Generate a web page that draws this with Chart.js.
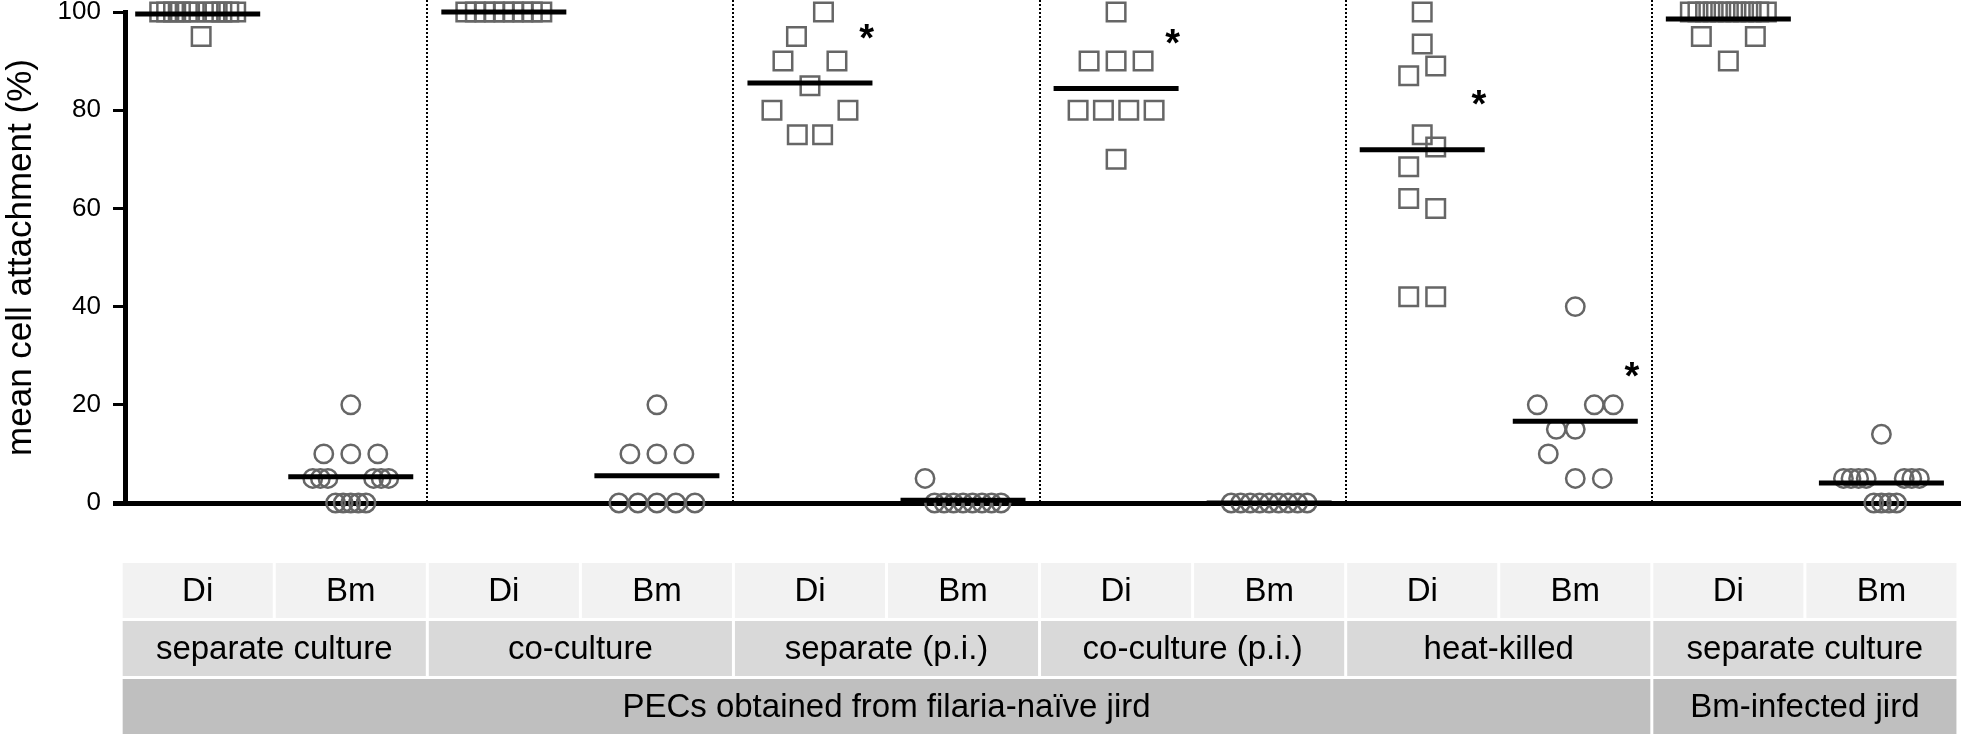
<!DOCTYPE html>
<html>
<head>
<meta charset="utf-8">
<script src="https://cdn.jsdelivr.net/npm/chart.js@4.4.1/dist/chart.umd.min.js"></script>
<style>
  html, body { margin: 0; padding: 0; background: #fff; }
</style>
</head>
<body>
<canvas id="grafico" width="1961" height="737"></canvas>
<script>
// Columns, conditions and PEC sources
const columnLabels = ['Di', 'Bm', 'Di', 'Bm', 'Di', 'Bm', 'Di', 'Bm', 'Di', 'Bm', 'Di', 'Bm'];
const treatments = ['separate culture', 'co-culture', 'separate (p.i.)', 'co-culture (p.i.)', 'heat-killed', 'separate culture'];
const sources = ['PECs obtained from filaria-naïve jird', 'Bm-infected jird'];
const sourceSpans = [5, 1]; // treatments per source

// mean cell attachment (%) per worm
const diSeparate = [100, 100, 100, 100, 100, 100, 95, 100, 100, 100, 100, 100];
const bmSeparate = [5, 5, 5, 0, 0, 0, 0, 0, 5, 5, 5, 10, 10, 10, 20];
const diCoculture = [100, 100, 100, 100, 100, 100, 100, 100, 100];
const bmCoculture = [0, 0, 0, 0, 0, 10, 10, 10, 20];
const diSeparatePI = [80, 75, 75, 80, 90, 85, 90, 95, 100];
const bmSeparatePI = [5, 0, 0, 0, 0, 0, 0, 0, 0];
const diCoculturePI = [70, 80, 80, 80, 80, 90, 90, 90, 100];
const bmCoculturePI = [0, 0, 0, 0, 0, 0, 0, 0, 0];
const diHeatKilled = [42, 42, 62, 60, 68.5, 72.5, 75, 87, 89, 93.5, 100];
const bmHeatKilled = [10, 5, 5, 20, 15, 15, 20, 20, 40];
const diInfected = [95, 90, 95, 100, 100, 100, 100, 100, 100, 100, 100, 100, 100, 100];
const bmInfected = [5, 5, 5, 5, 0, 0, 0, 0, 5, 5, 5, 14];

const seriesValues = [diSeparate, bmSeparate, diCoculture, bmCoculture, diSeparatePI, bmSeparatePI,
  diCoculturePI, bmCoculturePI, diHeatKilled, bmHeatKilled, diInfected, bmInfected];
const significant = [false, false, false, false, true, false, true, false, true, true, false, false];

const FONT = "'Liberation Sans', Arial, Helvetica, sans-serif";
const COL_PX = 153.08;   // width of one column in pixels
const ROW_UNITS = 5.2;   // values closer than this share a row of the scatter

const mean = a => a.reduce((s, v) => s + v, 0) / a.length;

// spread points of one column sideways, prism-like rows
function spread(values) {
  const sorted = values.map((v, i) => ({ v, i })).sort((a, b) => a.v - b.v || a.i - b.i);
  const out = new Array(values.length);
  let k = 0;
  while (k < sorted.length) {
    const start = sorted[k].v;
    const row = [];
    while (k < sorted.length && sorted[k].v - start <= ROW_UNITS) row.push(sorted[k++]);
    row.sort((a, b) => a.i - b.i);
    const gap = row.length > 1 ? Math.min(27, 76 / (row.length - 1)) : 0;
    row.forEach((p, j) => { out[p.i] = (j - (row.length - 1) / 2) * gap; });
  }
  return out;
}

function columnPoints(c) {
  const vals = seriesValues[c];
  const off = spread(vals);
  return vals.map((v, i) => ({ x: c + off[i] / COL_PX, y: v }));
}

const squares = [], circles = [];
seriesValues.forEach((vals, c) => {
  (columnLabels[c] === 'Di' ? squares : circles).push(...columnPoints(c));
});
const means = seriesValues.map((vals, c) => ({ x: c, y: mean(vals) }));

// dotted lines between conditions
const separators = {
  id: 'separators',
  beforeDatasetsDraw(chart) {
    const { ctx, scales: { x, y } } = chart;
    ctx.save();
    ctx.strokeStyle = '#000';
    ctx.lineWidth = 2;
    ctx.setLineDash([2, 2]);
    for (let g = 1; g < treatments.length; g++) {
      const px = Math.round(x.getPixelForValue(g * 2 - 0.5));
      ctx.beginPath();
      ctx.moveTo(px, 0);
      ctx.lineTo(px, y.getPixelForValue(0));
      ctx.stroke();
    }
    ctx.restore();
  }
};

// asterisks
const stars = {
  id: 'stars',
  afterDatasetsDraw(chart) {
    const { ctx, scales: { x, y } } = chart;
    ctx.save();
    ctx.font = 'bold 38px ' + FONT;
    ctx.fillStyle = '#000';
    ctx.textAlign = 'center';
    ctx.textBaseline = 'alphabetic';
    seriesValues.forEach((vals, c) => {
      if (!significant[c]) return;
      const px = x.getPixelForValue(c + 0.37);
      const py = y.getPixelForValue(mean(vals) + 11);
      ctx.fillText('*', px, py + 0.57 * 38);
    });
    ctx.restore();
  }
};

// grey table under the axis
const categoryTable = {
  id: 'categoryTable',
  afterDraw(chart) {
    const { ctx, scales: { x } } = chart;
    const edge = i => x.getPixelForValue(i - 0.5);
    let acc = 0;
    const sourceCells = sources.map((t, s) => {
      const from = acc * 2;
      acc += sourceSpans[s];
      return { t, from, to: acc * 2 };
    });
    const rows = [
      { top: 563, fill: '#f2f2f2', cells: columnLabels.map((t, i) => ({ t, from: i, to: i + 1 })) },
      { top: 621, fill: '#d9d9d9', cells: treatments.map((t, g) => ({ t, from: g * 2, to: g * 2 + 2 })) },
      { top: 679, fill: '#bfbfbf', cells: sourceCells }
    ];
    const h = 55;
    ctx.save();
    ctx.font = '33px ' + FONT;
    ctx.textAlign = 'center';
    ctx.textBaseline = 'middle';
    rows.forEach(r => {
      r.cells.forEach(cell => {
        const x0 = edge(cell.from) + 1.5, x1 = edge(cell.to) - 1.5;
        ctx.fillStyle = r.fill;
        ctx.fillRect(x0, r.top, x1 - x0, h);
        ctx.fillStyle = '#000';
        ctx.fillText(cell.t, (x0 + x1) / 2, r.top + h / 2 + 1);
      });
    });
    ctx.restore();
  }
};

Chart.defaults.font.family = FONT;
Chart.defaults.color = '#000';

new Chart(document.getElementById('grafico'), {
  type: 'scatter',
  data: {
    datasets: [
      {
        label: 'mean',
        data: means,
        pointStyle: 'line',
        pointRadius: 62.5,
        borderColor: '#000',
        borderWidth: 5,
        clip: false,
        order: 0
      },
      {
        label: 'Di',
        data: squares,
        pointStyle: 'rect',
        pointRadius: 13.1,
        backgroundColor: 'transparent',
        borderColor: '#666',
        borderWidth: 2.5,
        clip: false,
        order: 1
      },
      {
        label: 'Bm',
        data: circles,
        pointStyle: 'circle',
        pointRadius: 9.2,
        backgroundColor: 'transparent',
        borderColor: '#666',
        borderWidth: 2.5,
        clip: false,
        order: 1
      }
    ]
  },
  options: {
    responsive: false,
    animation: false,
    events: [],
    layout: { autoPadding: false, padding: { top: 12, bottom: 234, left: 0, right: 0 } },
    plugins: {
      legend: { display: false },
      tooltip: { enabled: false }
    },
    scales: {
      x: {
        type: 'linear',
        min: -0.475,
        max: 11.52,
        ticks: { display: false },
        grid: { display: false, drawTicks: false },
        border: { display: true, width: 5, color: '#000' },
        afterFit(s) { s.height = 0; s.paddingLeft = 0; s.paddingRight = 0; }
      },
      y: {
        min: 0,
        max: 100,
        ticks: { stepSize: 20, padding: 12, font: { size: 26 }, color: '#000' },
        grid: {
          drawOnChartArea: false,
          tickLength: 12,
          lineWidth: c => (c.tick && c.tick.value === 0 ? 5 : 3),
          color: '#000'
        },
        border: { display: true, width: 5, color: '#000' },
        title: {
          display: true,
          text: 'mean cell attachment (%)',
          font: { size: 35 },
          color: '#000',
          padding: { top: 0, bottom: 0 }
        },
        afterFit(s) { s.width = 125; s.paddingTop = 0; s.paddingBottom = 0; }
      }
    }
  },
  plugins: [separators, stars, categoryTable]
});
</script>
</body>
</html>
